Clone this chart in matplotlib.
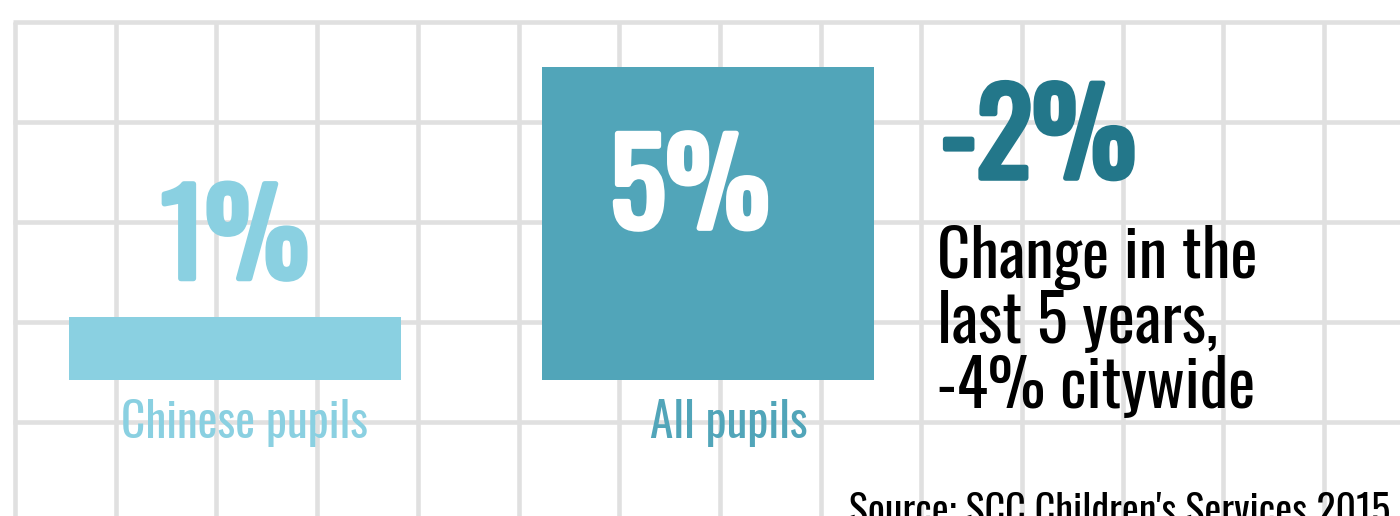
import matplotlib
matplotlib.use("Agg")
import matplotlib.pyplot as plt
import matplotlib.patheffects as pe
import numpy as np

# pupils share, per cent
groups = ["Chinese pupils", "All pupils"]
shares = [1, 5]
change_5yr = -2
citywide_change = -4
source = "Source: SCC Children's Services 2015"

bar_colors = ["#8ad0e1", "#51a5b9"]
dark_teal = "#23778a"
grid_gray = "#e0e0e0"

W, H = 1400, 516
fig = plt.figure(figsize=(W / 100, H / 100), dpi=100)


def px(x, y):
    # pixel position from top-left -> figure fraction
    return x / W, 1 - y / H


def heavy(color):
    # Oswald here is only the regular weight, so thicken it with a stroke
    return dict(family="Oswald", fontsize=84, color=color,
                path_effects=[pe.withStroke(linewidth=4, foreground=color)])


# graph paper background
bg = fig.add_axes([0, 0, 1, 1])
bg.set_xlim(0, W)
bg.set_ylim(H, 0)
bg.axis("off")
bg.vlines(15 + 100.7 * np.arange(14), 22, H, color=grid_gray, lw=3.3)
bg.hlines(22 + 100 * np.arange(5), 13, W, color=grid_gray, lw=3.3)

# bars
ax = fig.add_axes([0, 0, 1, 1])
ax.patch.set_alpha(0)
ax.axis("off")
ax.set_xlim(-0.4968, 2.463)
ax.set_ylim(-2.173, 6.07)
xs = np.arange(len(groups))
ax.bar(xs, shares, width=0.702, color=bar_colors)

# value labels: first above its bar, second inside
ax.annotate(f"{shares[0]}%", (xs[0], shares[0]), xytext=(0, 28), textcoords="offset points",
            ha="center", va="baseline", **heavy(bar_colors[0]))
ax.annotate(f"{shares[1]}%", (xs[1], shares[1]), xytext=(-13, -116), textcoords="offset points",
            ha="center", va="baseline", **heavy("white"))

for x, g, c, dx in zip(xs, groups, bar_colors, [7, 15]):
    ax.annotate(g, (x, 0), xytext=(dx, -42), textcoords="offset points",
                ha="center", va="baseline", color=c, family="Oswald", fontsize=34)

fig.text(*px(941, 178), f"{change_5yr}%", ha="left", va="baseline", **heavy(dark_teal))
fig.text(*px(937, 408),
         f"Change in the\nlast 5 years,\n{citywide_change}% citywide",
         ha="left", va="baseline", family="Oswald", fontsize=46.5, linespacing=0.98,
         color="black")
fig.text(*px(849, 525), source, ha="left", va="baseline", family="Oswald",
         fontsize=28.8, color="black")

fig.savefig("out.png", dpi=100, facecolor="white")
